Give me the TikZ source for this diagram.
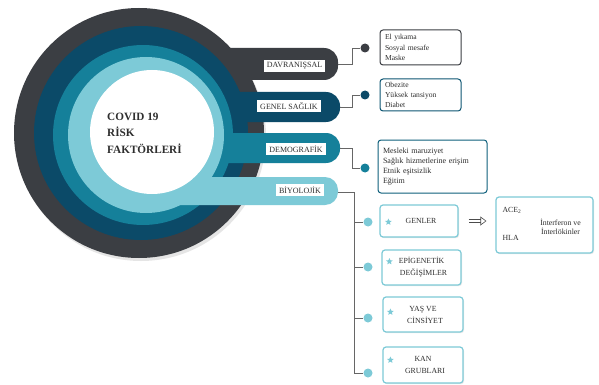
\documentclass[tikz,border=0pt]{standalone}
\usepackage{fontspec}
\setmainfont{Liberation Serif}
\usetikzlibrary{shapes.geometric,arrows.meta,shadows,calc}
\definecolor{cdark}{HTML}{3B3E43}
\definecolor{cnavy}{HTML}{0B4A68}
\definecolor{cteal}{HTML}{15809A}
\definecolor{clight}{HTML}{7DCAD7}
\definecolor{ctext}{HTML}{2E2E2E}
\begin{document}
\begin{tikzpicture}[x=1pt,y=-1pt,
  bandlabel/.style={fill=white, inner xsep=3pt, inner ysep=0pt, minimum height=12pt,
    font=\fontsize{8}{8}\selectfont, text=ctext},
  infobox/.style={draw, rounded corners=3pt, line width=1pt, fill=white, align=left,
    font=\fontsize{7.6}{10.3}\selectfont, text=ctext, inner xsep=5pt, inner ysep=2pt,
    text width=#1},
  biobox/.style={draw=clight, rounded corners=3pt, line width=1.2pt, fill=white,
    drop shadow={opacity=0.18, shadow xshift=1pt, shadow yshift=-1.2pt},
    font=\fontsize{7.8}{12}\selectfont, text=ctext, align=center, inner sep=0pt},
  dotnode/.style={circle, minimum size=9pt, inner sep=0pt, fill=#1},
  conn/.style={draw=black!60, line width=0.6pt},
  biostar/.style={star, star points=5, star point ratio=2.2, fill=clight, draw=none,
    inner sep=0pt, minimum size=7pt},
  dblarrow/.style={double=white, double distance=2pt, draw=black!70, line width=0.6pt,
    -{Triangle[open, length=6pt, width=9pt, line width=0.6pt]}}
]
\useasboundingbox (0,0) rectangle (599,385);
\fill[white] (0,0) rectangle (599,385);

% rings and bands
\fill[cdark, drop shadow={opacity=0.2, shadow xshift=2pt, shadow yshift=-3pt}] (139,133) circle[radius=125];
\fill[cdark, rounded corners=14pt] (139,48) rectangle (338,80);
\fill[cnavy] (141,133) circle[radius=107];
\fill[cnavy, rounded corners=14pt] (141,92) rectangle (340,122);
\fill[cteal] (143,135) circle[radius=90];
\fill[cteal, rounded corners=14pt] (143,133) rectangle (340,163);
\fill[clight] (146,135) circle[radius=78];
\fill[clight, rounded corners=13pt] (146,177) rectangle (338,205);
\fill[white] (152,132) circle[radius=62];

\node[anchor=west, align=left, font=\bfseries\fontsize{11.2}{16.5}\selectfont, text=ctext, inner sep=0pt]
  (title) at (107,133) {COVID 19\\RİSK\\FAKTÖRLERİ};

% band labels
\node[bandlabel] (davl) at (294.5,66) {DAVRANIŞSAL};
\node[bandlabel] (genl) at (289,106) {GENEL SAĞLIK};
\node[bandlabel] (deml) at (296,149) {DEMOGRAFİK};
\node[bandlabel] (biyl) at (300,190) {BİYOLOJİK};

\coordinate (dEnd) at (338,64);
\coordinate (gEnd) at (340,107);
\coordinate (mEnd) at (340,148);
\coordinate (bEnd) at (338,192);
\coordinate (bTrunk) at (354,192);

% info boxes
\node[infobox=71pt, draw=cdark, minimum height=35pt] (box1) at (420.5,47.5)
  {El yıkama\\Sosyal mesafe\\Maske};
\node[infobox=71pt, draw=cnavy!80!cteal, minimum height=32pt] (box2) at (420.5,95)
  {Obezite\\Yüksek tansiyon\\Diabet};
\node[infobox=99pt, draw=cnavy!60!cteal, minimum height=53pt, font=\fontsize{8}{10}\selectfont] (box3) at (432.5,166.5)
  {Mesleki maruziyet\\Sağlık hizmetlerine erişim\\Etnik eşitsizlik\\Eğitim};

\node[dotnode=cdark] (ddot) at (365,48) {};
\node[dotnode=cnavy] (gdot) at (365,95) {};
\node[dotnode=cteal] (mdot) at (365,168) {};

\draw[conn] (dEnd) -- ++(14,0) |- (ddot);
\draw[conn] (gEnd) -- ++(12,0) |- (gdot);
\draw[conn] (mEnd) -- ++(12,0) |- (mdot);

% biological boxes
\node[biobox, minimum width=78pt, minimum height=32pt] (genler) at (419,221) {\hspace*{4pt}GENLER};
\node[biobox, minimum width=79pt, minimum height=35pt] (epi) at (421.5,267.5) {EPİGENETİK\\\hspace*{4pt}DEĞİŞİMLER};
\node[biobox, minimum width=80pt, minimum height=35pt] (yas) at (423,314.5) {YAŞ VE\\\hspace*{4pt}CİNSİYET};
\node[biobox, minimum width=80pt, minimum height=36pt] (kan) at (423,365) {KAN\\\hspace*{4pt}GRUBLARI};

\node[biostar] (s1) at ([xshift=9pt,yshift=-1pt]genler.west) {};
\node[biostar] (s2) at ([xshift=8pt,yshift=6pt]epi.west) {};
\node[biostar] (s3) at ([xshift=8pt,yshift=2.5pt]yas.west) {};
\node[biostar] (s4) at ([xshift=8pt,yshift=5pt]kan.west) {};

\node[dotnode=clight] (b1dot) at (368,222) {};
\node[dotnode=clight] (b2dot) at (368,267) {};
\node[dotnode=clight] (b3dot) at (368,318) {};
\node[dotnode=clight] (b4dot) at (368,373) {};

\draw[conn] (bEnd) -- (bTrunk) |- (b4dot);
\foreach \d in {b1dot,b2dot,b3dot} \draw[conn] (bTrunk |- \d) -- (\d);

% ACE box
\node[biobox, minimum width=97pt, minimum height=56pt] (ace) at (544.5,225) {};
\node[anchor=west, font=\fontsize{7.8}{9}\selectfont, text=ctext, inner sep=0pt] (ace2) at ([xshift=7pt,yshift=15pt]ace.west) {ACE\textsubscript{2}};
\node[anchor=west, font=\fontsize{7.8}{9}\selectfont, text=ctext, inner sep=0pt] (hla) at ([xshift=7pt,yshift=-13pt]ace.west) {HLA};
\node[align=center, font=\fontsize{7.8}{9}\selectfont, text=ctext, inner sep=0pt] (intf) at ([xshift=16pt,yshift=-2pt]ace.center) {İnterferon ve\\İnterlökinler};

\draw[dblarrow] ([xshift=10pt]genler.east) -- ([xshift=-9pt]ace.west |- genler.east);
\end{tikzpicture}
\end{document}
